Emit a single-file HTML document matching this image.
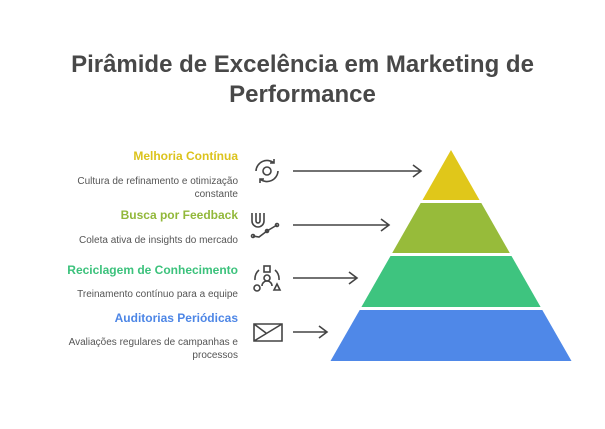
<!DOCTYPE html>
<html><head><style>
body{margin:0;width:605px;height:429px;background:#fff;font-family:"Liberation Sans",sans-serif;position:relative;overflow:hidden}
.t{position:absolute;left:0;width:605px;text-align:center;font-weight:bold;font-size:24px;color:#484848;line-height:30px}
.h{position:absolute;right:367px;font-weight:bold;font-size:12px;text-align:right;white-space:nowrap}
.d{position:absolute;right:367px;font-size:10px;color:#555;text-align:right;line-height:13px;width:190px}
</style></head><body>
<div class="t" style="top:50px">Pirâmide de Excelência em Marketing de<br>Performance</div>
<div class="h" style="top:149px;color:#dcc31c">Melhoria Contínua</div>
<div class="d" style="top:175px">Cultura de refinamento e otimização constante</div>
<div class="h" style="top:208px;color:#92b83a">Busca por Feedback</div>
<div class="d" style="top:234px">Coleta ativa de insights do mercado</div>
<div class="h" style="top:263px;color:#3cc27c">Reciclagem de Conhecimento</div>
<div class="d" style="top:288px">Treinamento contínuo para a equipe</div>
<div class="h" style="top:311px;color:#4d86e6">Auditorias Periódicas</div>
<div class="d" style="top:336px">Avaliações regulares de campanhas e processos</div>
<svg width="605" height="429" style="position:absolute;left:0;top:0">
<polygon points="451,150 479.5,200 422.5,200" fill="#e0c71a"/>
<polygon points="420.7,203 481.3,203 509.8,253 392.2,253" fill="#97bb3a"/>
<polygon points="390.5,256 511.5,256 540.6,307 361.4,307" fill="#3ec47f"/>
<polygon points="359.7,310 542.3,310 571.5,361 330.5,361" fill="#4f88e8"/>
<g stroke="#444" stroke-width="1.6" fill="none">
<path d="M293 171H421M413 165l8 6-8 6"/>
<path d="M293 225H389M381 219l8 6-8 6"/>
<path d="M293 278H357M349 272l8 6-8 6"/>
<path d="M293 332H327M319 326l8 6-8 6"/>
<circle cx="267" cy="171" r="4"/>
<path d="M256 171a11 11 0 0 1 18-8M278 171a11 11 0 0 1-18 8M274 159v4h-4M260 183v-4h4"/>
<path d="M252 213v8a6 6 0 0 0 12 0v-8M256 213v8a2 2 0 0 0 4 0v-8"/>
<path d="M253 236l6 1 8-6 10-6"/><circle cx="253" cy="236" r="1.5"/><circle cx="267" cy="231" r="1.5"/><circle cx="277" cy="225" r="1.5"/>
<rect x="264" y="266" width="6" height="6"/><circle cx="267" cy="278" r="3"/><path d="M262 286a5 5 0 0 1 10 0"/>
<circle cx="257" cy="288" r="3"/><path d="M274 290l3-6 3 6z"/>
<path d="M259 270a12 12 0 0 0-4 10M275 270a12 12 0 0 1 4 10"/>
<path d="M254 324v17h28v-17zM254 341l28-17M254 324l12 9"/>
</g>
</svg>
</body></html>
